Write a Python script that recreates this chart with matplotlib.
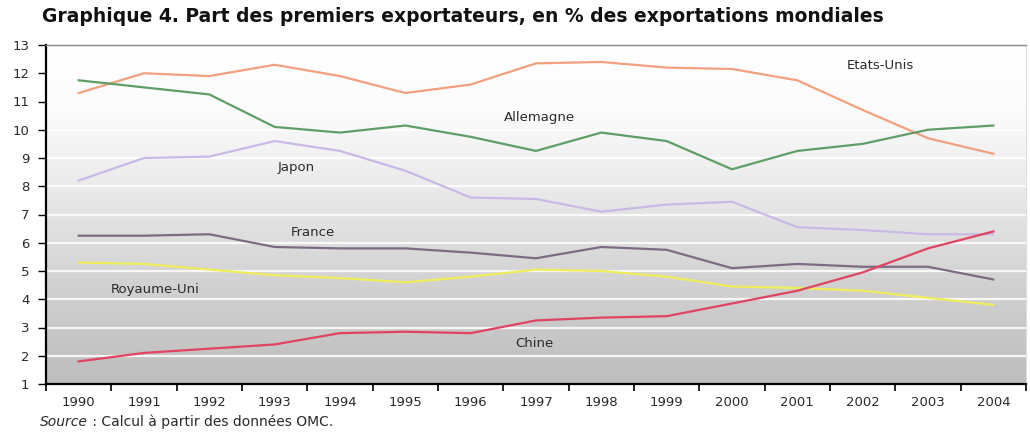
import matplotlib
matplotlib.use("Agg")
import matplotlib.pyplot as plt
import numpy as np
from matplotlib.colors import LinearSegmentedColormap

plt.rcParams['font.family'] = ['DejaVu Sans']

years = ["1990", "1991", "1992", "1993", "1994", "1995", "1996", "1997",
         "1998", "1999", "2000", "2001", "2002", "2003", "2004"]
etats_unis = [11.3, 12.0, 11.9, 12.3, 11.9, 11.3, 11.6, 12.35, 12.4, 12.2, 12.15, 11.75, 10.7, 9.7, 9.15]
allemagne = [11.75, 11.5, 11.25, 10.1, 9.9, 10.15, 9.75, 9.25, 9.9, 9.6, 8.6, 9.25, 9.5, 10.0, 10.15]
japon = [8.2, 9.0, 9.05, 9.6, 9.25, 8.55, 7.6, 7.55, 7.1, 7.35, 7.45, 6.55, 6.45, 6.3, 6.3]
france = [6.25, 6.25, 6.3, 5.85, 5.8, 5.8, 5.65, 5.45, 5.85, 5.75, 5.1, 5.25, 5.15, 5.15, 4.7]
royaume_uni = [5.3, 5.25, 5.05, 4.85, 4.75, 4.6, 4.8, 5.05, 5.0, 4.8, 4.45, 4.4, 4.3, 4.05, 3.8]
chine = [1.8, 2.1, 2.25, 2.4, 2.8, 2.85, 2.8, 3.25, 3.35, 3.4, 3.85, 4.3, 4.95, 5.8, 6.4]

series = [
    ("Etats-Unis", etats_unis, "#F2A07E"),
    ("Allemagne", allemagne, "#5F9E66"),
    ("Japon", japon, "#C9B9E6"),
    ("France", france, "#7D6B86"),
    ("Royaume-Uni", royaume_uni, "#EDEE5A"),
    ("Chine", chine, "#E04462"),
]

label_pos = {
    "Etats-Unis": (12.27, 12.29),
    "Allemagne": (7.06, 10.42),
    "Japon": (3.33, 8.65),
    "France": (3.58, 6.38),
    "Royaume-Uni": (1.17, 4.33),
    "Chine": (6.98, 2.45),
}

fig = plt.figure(figsize=(10.3, 4.38), dpi=100)
ax = fig.add_axes([46/1030, 1 - 384/438, (1026-46)/1030, (384-45)/438])

x = np.arange(len(years))
ax.set_xlim(-0.5, len(years) - 0.5)
ax.set_ylim(1, 13)

# gradient background: white at top, grey at bottom
cmap = LinearSegmentedColormap.from_list(
    "bg", [(0.0, "#FFFFFF"), (0.2, "#FBFBFB"), (0.45, "#E8E8E8"),
           (0.7, "#D2D2D2"), (1.0, "#BDBDBD")])
grad = np.linspace(0, 1, 256).reshape(-1, 1)
ax.imshow(grad, aspect='auto', cmap=cmap, extent=[-0.5, len(years) - 0.5, 1, 13],
          origin='upper', zorder=0, interpolation='bicubic')

for yv in range(2, 13):
    ax.axhline(yv, color="white", lw=1.6, alpha=0.85, zorder=1)

for name, vals, col in series:
    ax.plot(x, vals, color=col, lw=1.6, zorder=3)
    lx, ly = label_pos[name]
    ax.text(lx, ly, name, fontsize=9.5, color="#2A2A2A", ha='center', va='center', zorder=4)

ax.set_yticks(range(1, 14))
ax.set_yticklabels([str(v) for v in range(1, 14)], fontsize=9.5, color="#2A2A2A")
ax.set_xticks(np.arange(-0.5, len(years), 1.0))
ax.set_xticklabels([])
ax.set_xticks(x, minor=True)
ax.set_xticklabels(years, minor=True, fontsize=9.5, color="#2A2A2A")
ax.tick_params(axis='x', which='major', length=5, width=1.2, direction='out')
ax.tick_params(axis='x', which='minor', length=0, pad=9)
ax.tick_params(axis='y', length=6, width=1.0, direction='out', pad=6)

for s in ['left', 'bottom']:
    ax.spines[s].set_linewidth(1.6)
    ax.spines[s].set_color('black')
ax.spines['top'].set_color('#888888')
ax.spines['top'].set_linewidth(1.0)
ax.spines['right'].set_color('#DDDDDD')
ax.spines['right'].set_linewidth(0.8)

fig.text(42/1030, 1 - 16/438, "Graphique 4. Part des premiers exportateurs, en % des exportations mondiales",
         fontsize=13.5, fontweight='bold', ha='left', va='center', color="#111111")

t1 = fig.text(40/1030, 1 - 422/438, "Source", fontsize=10, fontstyle='italic',
              ha='left', va='center', color="#2A2A2A")
fig.canvas.draw()
bb = t1.get_window_extent()
fig.text(bb.x1 / fig.bbox.width, 1 - 422/438, " : Calcul à partir des données OMC.", fontsize=10,
         ha='left', va='center', color="#2A2A2A")

fig.savefig("out.png", dpi=100)
